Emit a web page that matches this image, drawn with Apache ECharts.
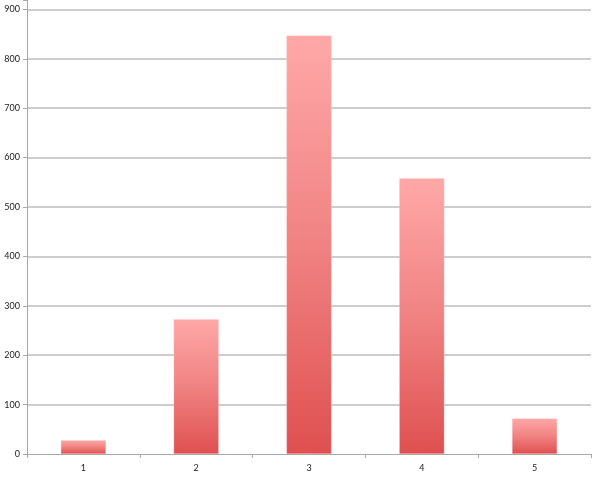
<!DOCTYPE html>
<html>
<head>
<meta charset="utf-8">
<script src="https://cdn.jsdelivr.net/npm/echarts@6/dist/echarts.min.js"></script>
<style>
html,body{margin:0;padding:0;background:#fff;}
#c{width:600px;height:478px;}
</style>
</head>
<body>
<div id="c"></div>
<script>
const categories = ['1', '2', '3', '4', '5'];
const values = [28, 273, 847, 558, 72];
const yTicks = [0, 100, 200, 300, 400, 500, 600, 700, 800, 900];

const chart = echarts.init(document.getElementById('c'), null, {renderer: 'canvas'});
chart.setOption({
  animation: false,
  backgroundColor: '#ffffff',
  grid: {left: 27, right: 9, top: 0, bottom: 24, containLabel: false},
  xAxis: {
    type: 'category',
    data: categories,
    axisLine: {show: true, lineStyle: {color: '#a8a8a8', width: 1}},
    axisTick: {show: true, length: 4, lineStyle: {color: '#a8a8a8'}},
    axisLabel: {color: '#222', fontSize: 9, fontFamily: 'Lato, sans-serif', margin: 10}
  },
  yAxis: {
    type: 'value',
    min: 0,
    max: 919,
    interval: 100,
    axisLine: {show: true, lineStyle: {color: '#a8a8a8', width: 1}},
    axisTick: {show: true, length: 4, lineStyle: {color: '#a8a8a8'}},
    axisLabel: {
      color: '#222', fontSize: 9, fontFamily: 'Lato, sans-serif', margin: 7,
      formatter: function (v) { return yTicks.indexOf(v) >= 0 ? String(v) : ''; }
    },
    splitLine: {show: true, showMinLine: false, showMaxLine: false, lineStyle: {color: '#bdbdbd', width: 1.5}}
  },
  series: [{
    type: 'bar',
    data: values,
    barWidth: '40%',
    itemStyle: {
      color: {
        type: 'linear', x: 0, y: 0, x2: 0, y2: 1,
        colorStops: [
          {offset: 0, color: '#ffa8a8'},
          {offset: 0.5, color: '#f08282'},
          {offset: 1, color: '#df5050'}
        ]
      },
      borderColor: 'rgba(255,200,200,0.6)',
      borderWidth: 0.5
    }
  }]
});
</script>
</body>
</html>
